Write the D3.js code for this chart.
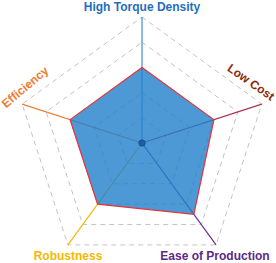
<!DOCTYPE html>
<html>
<head>
<meta charset="utf-8">
<script src="https://cdn.jsdelivr.net/npm/d3@7"></script>
<style>
  body { margin: 0; background: #fff; }
  svg { display: block; font-family: "Liberation Sans", Arial, sans-serif; }
</style>
</head>
<body>
<div id="chart"></div>
<script>
var axes = ["High Torque Density", "Low Cost", "Ease of Production", "Robustness", "Efficiency"];
var values = [0.6, 0.6, 0.7, 0.6, 0.6];
var levels = [0.2, 0.4, 0.6, 0.8, 1.0];
var axisColors = ["#3d8fd6", "#a8304a", "#6a2c91", "#f5b800", "#ed7d31"];
var labelColors = ["#1f6fbd", "#8b2a0a", "#5b2a86", "#f5b800", "#ed7d31"];

var width = 276, height = 263;
var cx = 142, cy = 143, radius = 126;

var svg = d3.select("#chart").append("svg")
  .attr("width", width)
  .attr("height", height);

var g = svg.append("g").attr("transform", "translate(" + cx + "," + cy + ")");

var r = d3.scaleLinear().domain([0, 1]).range([0, radius]);
var angle = function(i) { return i * 2 * Math.PI / axes.length; };

var pt = function(i, v) {
  return [Math.sin(angle(i)) * r(v), -Math.cos(angle(i)) * r(v)];
};

var radial = d3.lineRadial()
  .angle(function(d, i) { return angle(i); })
  .radius(function(d) { return r(d); })
  .curve(d3.curveLinearClosed);

// grid pentagons
g.selectAll(".grid")
  .data(levels)
  .enter().append("path")
  .attr("class", "grid")
  .attr("d", function(lv) { return radial(axes.map(function() { return lv; })); })
  .attr("fill", "none")
  .attr("stroke", "#c4c4c4")
  .attr("stroke-width", 1)
  .attr("stroke-dasharray", "5,4");

// axis lines
g.selectAll(".axis")
  .data(axes)
  .enter().append("line")
  .attr("class", "axis")
  .attr("x1", 0).attr("y1", 0)
  .attr("x2", function(d, i) { return pt(i, 1)[0]; })
  .attr("y2", function(d, i) { return pt(i, 1)[1]; })
  .attr("stroke", function(d, i) { return axisColors[i]; })
  .attr("stroke-width", 1.2);

// data area
g.append("path")
  .datum(values)
  .attr("d", radial)
  .attr("fill", "#1f7fcb")
  .attr("fill-opacity", 0.8)
  .attr("stroke", "#e8323a")
  .attr("stroke-width", 1.2);

// center dot
g.append("circle")
  .attr("r", 3.2)
  .attr("fill", "#1b5ea3")
  .attr("stroke", "#174f8a")
  .attr("stroke-width", 0.8);

// labels
var labelPos = [
  {x: 0, y: -136, rot: 0},
  {x: 109, y: -61, rot: 35},
  {x: 73, y: 113, rot: 0},
  {x: -74, y: 113, rot: 0},
  {x: -117, y: -56, rot: -40}
];

g.selectAll(".label")
  .data(axes)
  .enter().append("text")
  .attr("class", "label")
  .attr("transform", function(d, i) {
    var p = labelPos[i];
    return "translate(" + p.x + "," + p.y + ") rotate(" + p.rot + ")";
  })
  .attr("text-anchor", "middle")
  .attr("dy", "0.35em")
  .style("font-size", "12px")
  .style("font-weight", "bold")
  .style("fill", function(d, i) { return labelColors[i]; })
  .text(function(d) { return d; });
</script>
</body>
</html>
